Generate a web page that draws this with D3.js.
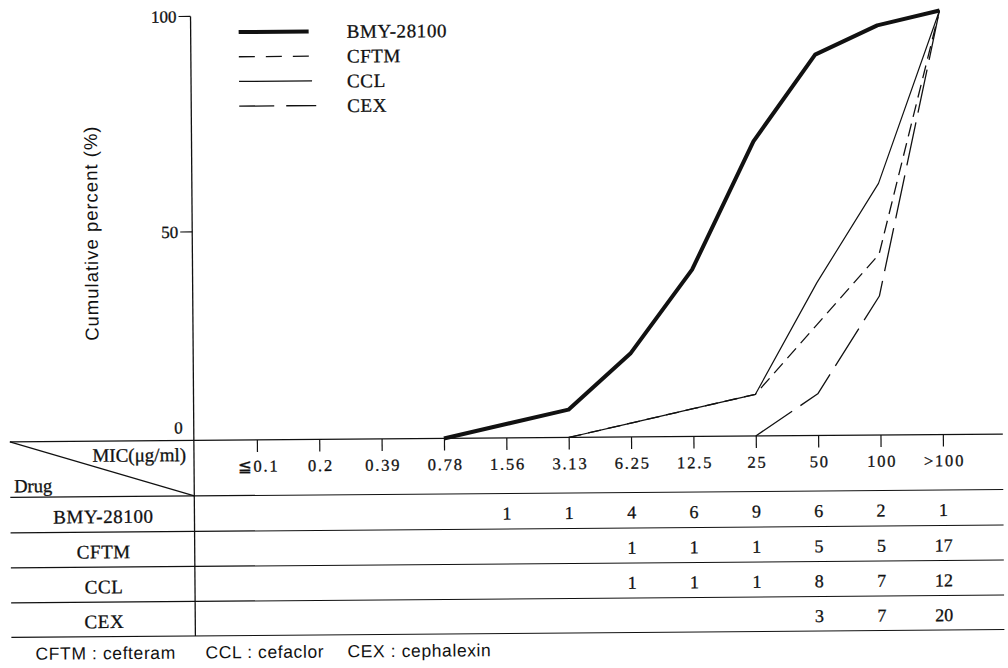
<!DOCTYPE html>
<html>
<head>
<meta charset="utf-8">
<script src="https://cdn.jsdelivr.net/npm/d3@7"></script>
<style>
  html, body { margin: 0; padding: 0; background: #fff; }
  svg { display: block; }
  .serif { font-family: "Liberation Serif", "DejaVu Serif", serif; fill: #111; stroke: #111; stroke-width: 0.3px; }
  .sans { font-family: "Liberation Sans", "DejaVu Sans", sans-serif; fill: #111; }
</style>
</head>
<body>
<svg id="chart" width="1008" height="668"></svg>
<script>
// MIC dilution steps (µg/ml)
const mics = ["≦0.1", "0.2", "0.39", "0.78", "1.56", "3.13", "6.25", "12.5", "25", "50", "100", ">100"];
const drugs = ["BMY-28100", "CFTM", "CCL", "CEX"];
// number of strains inhibited at each MIC step
const countsBMY  = [0, 0, 0, 0, 1, 1, 4, 6, 9, 6, 2, 1];
const countsCFTM = [0, 0, 0, 0, 0, 0, 1, 1, 1, 5, 5, 17];
const countsCCL  = [0, 0, 0, 0, 0, 0, 1, 1, 1, 8, 7, 12];
const countsCEX  = [0, 0, 0, 0, 0, 0, 0, 0, 0, 3, 7, 20];
const yTicks = [0, 50, 100];
const footnotes = ["CFTM : cefteram", "CCL : cefaclor", "CEX : cephalexin"];

const seriesCounts = [countsBMY, countsCFTM, countsCCL, countsCEX];
const styles = [
  { width: 4,   plotDash: null,    legendDash: null },
  { width: 1.3, plotDash: "13,7",  legendDash: "16,11" },
  { width: 1.2, plotDash: null,    legendDash: null },
  { width: 1.3, plotDash: "44,10", legendDash: "35,12" }
];

const svg = d3.select("#chart");
// the printed figure sits at a slight tilt on the page
const root = svg.append("g").attr("transform", "rotate(-0.45,500,330)");

const axisX = 193;
const tableLeft = 9, tableRight = 1002;
const rowLines = [438, 493.5, 529, 564, 599, 633.5];

const x = d3.scalePoint().domain(mics).range([256, 942]);
const y = d3.scaleLinear().domain([0, 50, 100]).range([438, 229.5, 14]);

// cumulative percentage curves
const line = d3.line().x(d => x(d.mic)).y(d => y(d.pct));
seriesCounts.forEach((counts, i) => {
  const total = d3.sum(counts);
  const first = counts.findIndex(c => c > 0);
  let cum = 0;
  const pts = [];
  counts.forEach((c, j) => {
    cum += c;
    if (j >= first - 1) pts.push({ mic: mics[j], pct: cum / total * 100 });
  });
  root.append("path")
    .datum(pts)
    .attr("d", line)
    .attr("fill", "none")
    .attr("stroke", "#111")
    .attr("stroke-width", styles[i].width)
    .attr("stroke-linejoin", "round")
    .attr("stroke-dasharray", styles[i].plotDash);
});

// vertical axis running down through the table
root.append("line")
  .attr("x1", axisX).attr("x2", axisX)
  .attr("y1", y(100)).attr("y2", rowLines[rowLines.length - 1])
  .attr("stroke", "#111").attr("stroke-width", 1.3);

yTicks.forEach(t => {
  if (t > 0) {
    root.append("line")
      .attr("x1", axisX - 12).attr("x2", axisX)
      .attr("y1", y(t)).attr("y2", y(t))
      .attr("stroke", "#111").attr("stroke-width", 1.2);
  }
  root.append("text").attr("class", "serif")
    .attr("x", t > 0 ? axisX - 14 : axisX - 11)
    .attr("y", t > 0 ? y(t) : y(t) - 13)
    .attr("dy", "0.35em")
    .attr("text-anchor", "end")
    .attr("font-size", 17)
    .text(t);
});

root.append("text").attr("class", "sans")
  .attr("transform", `translate(92,230) rotate(-90)`)
  .attr("text-anchor", "middle")
  .attr("dy", "0.35em")
  .attr("font-size", 18.5)
  .attr("letter-spacing", 1)
  .text("Cumulative percent (%)");

// legend
drugs.forEach((d, i) => {
  const ly = 30 + i * 24.7;
  root.append("line")
    .attr("x1", 241).attr("x2", i === 0 ? 311 : 314 + (i === 3 ? 4 : 0))
    .attr("y1", ly).attr("y2", ly)
    .attr("stroke", "#111")
    .attr("stroke-width", styles[i].width === 4 ? 4 : 1.3)
    .attr("stroke-dasharray", styles[i].legendDash);
  root.append("text").attr("class", "serif")
    .attr("x", 349).attr("y", ly)
    .attr("dy", "0.35em")
    .attr("font-size", 19)
    .attr("letter-spacing", 0.6)
    .text(d);
});

// table rules
rowLines.forEach((ry, i) => {
  root.append("line")
    .attr("x1", tableLeft).attr("x2", tableRight)
    .attr("y1", ry).attr("y2", ry)
    .attr("stroke", "#111").attr("stroke-width", i === 0 ? 1.3 : 1.1);
});

// header cell diagonal
root.append("line")
  .attr("x1", tableLeft).attr("y1", rowLines[0])
  .attr("x2", axisX).attr("y2", rowLines[1])
  .attr("stroke", "#111").attr("stroke-width", 1.2);

root.append("text").attr("class", "serif")
  .attr("x", 185).attr("y", 452).attr("dy", "0.35em")
  .attr("text-anchor", "end").attr("font-size", 19)
  .text("MIC(μg/ml)");
root.append("text").attr("class", "serif")
  .attr("x", 13).attr("y", 482).attr("dy", "0.35em")
  .attr("font-size", 18.5)
  .text("Drug");

// MIC ticks and labels
const xAxis = d3.axisBottom(x).tickSize(12).tickPadding(8);
const gx = root.append("g").attr("transform", `translate(0,${rowLines[0]})`).call(xAxis);
gx.select(".domain").remove();
gx.selectAll(".tick line").attr("stroke", "#111").attr("stroke-width", 1.2);
gx.selectAll(".tick text")
  .attr("class", "serif")
  .attr("font-size", 16.5)
  .attr("letter-spacing", 1.8)
  .attr("dx", 1)
  .attr("y", 20)
  .attr("fill", "#111");

// drug rows with strain counts
drugs.forEach((d, i) => {
  const cy = (rowLines[i + 1] + rowLines[i + 2]) / 2 + 2;
  root.append("text").attr("class", "serif")
    .attr("x", 102).attr("y", cy).attr("dy", "0.35em")
    .attr("text-anchor", "middle").attr("font-size", 19)
    .attr("letter-spacing", 0.6)
    .text(d);
  seriesCounts[i].forEach((c, j) => {
    if (c > 0) {
      root.append("text").attr("class", "serif")
        .attr("x", x(mics[j])).attr("y", cy).attr("dy", "0.35em")
        .attr("text-anchor", "middle").attr("font-size", 18)
        .text(c);
    }
  });
});

// abbreviations
const footX = [33, 203, 345];
footnotes.forEach((f, i) => {
  root.append("text").attr("class", "sans")
    .attr("x", footX[i]).attr("y", 650).attr("dy", "0.35em")
    .attr("font-size", 17.5).attr("letter-spacing", 0.6)
    .text(f);
});
</script>
</body>
</html>
